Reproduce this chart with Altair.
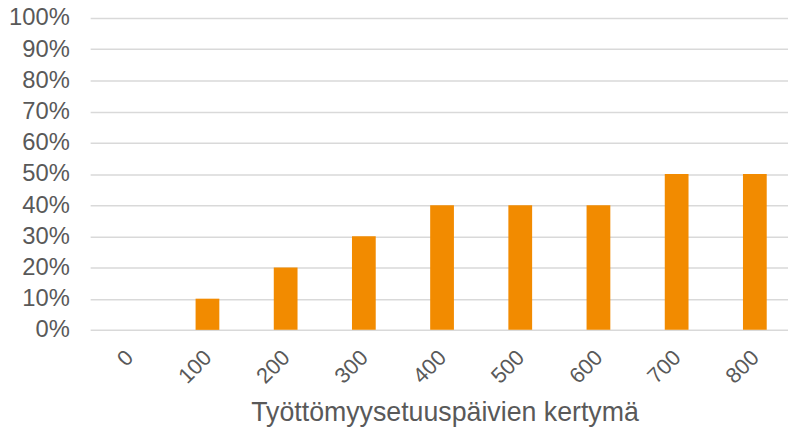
import altair as alt
import pandas as pd

categories = [0, 100, 200, 300, 400, 500, 600, 700, 800]
values = [0.0, 0.10, 0.20, 0.30, 0.40, 0.40, 0.40, 0.50, 0.50]
y_ticks = [i / 10 for i in range(11)]

df = pd.DataFrame({"kertyma": categories, "osuus": values})

FONT = "Liberation Sans"
GRAY = "#595959"

chart = (
    alt.Chart(df)
    .mark_bar(color="#F28B00", size=24, orient="vertical")
    .encode(
        x=alt.X(
            "kertyma:Q",
            scale=alt.Scale(domain=[-50, 842.4], nice=False, zero=False, padding=0),
            axis=alt.Axis(
                title="Työttömyysetuuspäivien kertymä",
                values=categories,
                format="d",
                labelAngle=-45,
                labelAlign="right",
                labelBaseline="middle",
                labelPadding=24,
                labelFontSize=22,
                labelColor=GRAY,
                labelFont=FONT,
                labelFlush=False,
                labelOverlap=False,
                domain=False,
                ticks=False,
                grid=False,
                titleFont=FONT,
                titleFontSize=27,
                titleFontWeight="normal",
                titleColor=GRAY,
                titleBaseline="alphabetic",
                titleY=92,
                titleX=358,
                titleAlign="center",
            ),
        ),
        y=alt.Y(
            "osuus:Q",
            scale=alt.Scale(domain=[0, 1], nice=False),
            axis=alt.Axis(
                title=None,
                values=y_ticks,
                format=".0%",
                labelFontSize=24,
                labelColor=GRAY,
                labelFont=FONT,
                labelPadding=21,
                domain=False,
                ticks=False,
                grid=True,
                gridColor="#D9D9D9",
                gridWidth=1.5,
            ),
        ),
    )
    .properties(
        width=705,
        height=315,
        autosize=alt.AutoSizeParams(type="none"),
        padding={"left": 83, "top": 8, "right": 0, "bottom": 99},
    )
    .configure_view(stroke=None)
)

chart.save("out.html", embed_options={"renderer": "svg", "actions": False})
